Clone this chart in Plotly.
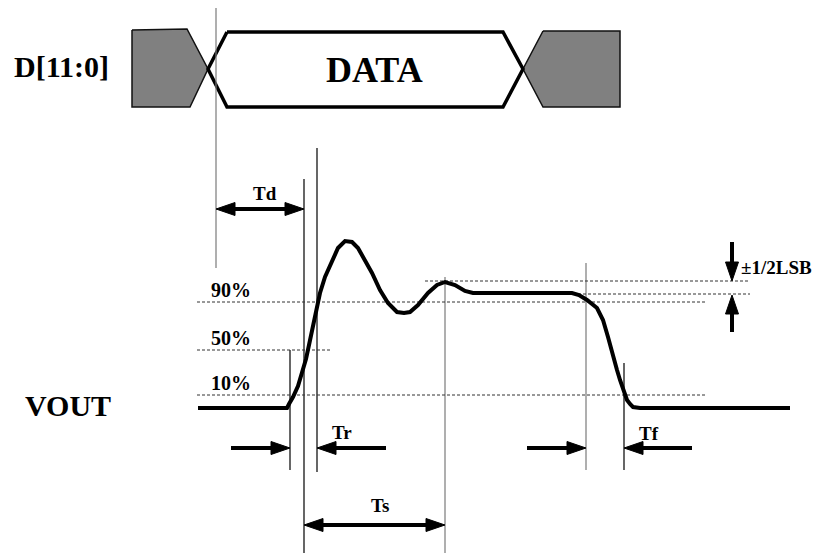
import plotly.graph_objects as go

# ---------------- data (diagram coordinates, pixel-like units) ----------------
# VOUT waveform
vout_x = [198, 287, 289, 293, 298, 302, 306, 309, 313, 317, 320, 325, 332, 338, 345,
          352, 358, 365, 372, 380, 388, 397, 404, 410, 418, 428, 437, 445, 455, 465,
          473, 482, 572, 579, 587, 597, 603, 608, 613, 617, 620, 624, 627, 630, 633,
          640, 790]
vout_y = [408, 408, 404, 397, 386, 373, 359, 345, 327, 310, 293, 277, 260, 248, 241,
          242, 248, 260, 273, 290, 303, 312, 313, 312, 305, 293, 285, 282, 285, 291,
          293, 293, 293, 295, 300, 308, 320, 337, 357, 370, 380, 391, 400, 404, 407,
          408, 408]

# data bus (D[11:0])
data_hex_x = [227, 503, 523, 503, 227, 208, 227]
data_hex_y = [32, 32, 69, 107, 107, 69, 32]
gray_left_x = [132, 187, 208, 190, 132, 132]
gray_left_y = [30, 29, 69, 107, 107, 30]
gray_right_x = [543, 620, 620, 543, 523, 543]
gray_right_y = [31, 31, 107, 107, 69, 31]

# reference (vertical) lines: x, y_top, y_bottom, colour
vlines = [
    (216, 8, 268, "#7a7a7a"),
    (290, 350, 470, "#000000"),
    (304, 179, 553, "#000000"),
    (317, 148, 472, "#000000"),
    (445, 277, 553, "#7a7a7a"),
    (586, 263, 470, "#7a7a7a"),
    (624, 363, 470, "#000000"),
]

# dashed level lines: x_start, x_end, y
level_lines = [
    (197, 707, 302),   # 90%
    (197, 332, 350),   # 50%
    (197, 707, 395),   # 10%
    (425, 750, 281),   # +1/2 LSB
    (483, 750, 294),   # -1/2 LSB
]

# single arrows: tail x, tail y, tip x, tip y
single_arrows = [
    (231, 448, 290, 448),
    (386, 448, 317, 448),
    (527, 448, 586, 448),
    (692, 448, 624, 448),
    (732, 242, 732, 281),
    (732, 332, 732, 295),
]
# double arrows: end1 x, y, end2 x, y
double_arrows = [
    (216, 209, 304, 209),   # Td
    (304, 525, 445, 525),   # Ts
]

# text labels: text, x, y, size, anchor
labels = [
    ("D[11:0]", 61, 66, 30, "center"),
    ("DATA", 374, 70, 36, "center"),
    ("VOUT", 68, 405, 30, "center"),
    ("90%", 231, 290, 20, "center"),
    ("50%", 231, 338, 20, "center"),
    ("10%", 231, 383, 20, "center"),
    ("Td", 265, 193, 19, "center"),
    ("Tr", 342, 432, 19, "center"),
    ("Ts", 380, 505, 19, "center"),
    ("Tf", 649, 433, 19, "center"),
    ("±1/2LSB", 739, 267, 19, "left"),
]

HEAD_LEN = 19
HEAD_HALF = 6.5
SHAFT_W = 4
FONT = "Times New Roman, Liberation Serif, serif"

fig = go.Figure()

def add_line(xs, ys, color="#000", width=1, dash=None, fill=None, fillcolor=None):
    fig.add_trace(go.Scatter(
        x=xs, y=ys, mode="lines",
        line=dict(color=color, width=width, dash=dash),
        fill=fill, fillcolor=fillcolor,
        hoverinfo="skip", showlegend=False))

# bus
add_line(gray_left_x, gray_left_y, color="#111", width=1.5, fill="toself", fillcolor="#808080")
add_line(gray_right_x, gray_right_y, color="#111", width=1.5, fill="toself", fillcolor="#808080")
add_line(data_hex_x, data_hex_y, color="#000", width=3.5)

# vertical reference lines
for x, y0, y1, c in vlines:
    add_line([x, x], [y0, y1], color=c, width=1.2)

# dashed levels
for x0, x1, y in level_lines:
    add_line([x0, x1], [y, y], color="#333", width=1, dash="3px,2px")

# waveform
add_line(vout_x, vout_y, color="#000", width=4)

def head(tx, ty, dx, dy):
    # tip at (tx,ty), direction (dx,dy) unit pointing towards the tip
    bx, by = tx - dx * HEAD_LEN, ty - dy * HEAD_LEN
    px, py = -dy, dx
    xs = [tx, bx + px * HEAD_HALF, bx - px * HEAD_HALF, tx]
    ys = [ty, by + py * HEAD_HALF, by - py * HEAD_HALF, ty]
    add_line(xs, ys, color="#000", width=1, fill="toself", fillcolor="#000")
    return bx, by

def unit(x0, y0, x1, y1):
    L = ((x1 - x0) ** 2 + (y1 - y0) ** 2) ** 0.5
    return (x1 - x0) / L, (y1 - y0) / L

for x0, y0, x1, y1 in single_arrows:
    dx, dy = unit(x0, y0, x1, y1)
    bx, by = head(x1, y1, dx, dy)
    add_line([x0, bx], [y0, by], color="#000", width=SHAFT_W)

for x0, y0, x1, y1 in double_arrows:
    dx, dy = unit(x0, y0, x1, y1)
    b1x, b1y = head(x1, y1, dx, dy)
    b0x, b0y = head(x0, y0, -dx, -dy)
    add_line([b0x, b1x], [b0y, b1y], color="#000", width=SHAFT_W)

for text, x, y, size, anchor in labels:
    fig.add_annotation(x=x, y=y, xref="x", yref="y", text="<b>%s</b>" % text,
                       showarrow=False, xanchor=anchor, yanchor="middle",
                       font=dict(family=FONT, size=size, color="#000"))

fig.update_layout(
    width=819, height=557, autosize=False,
    margin=dict(l=0, r=0, t=0, b=0),
    paper_bgcolor="white", plot_bgcolor="white",
    xaxis=dict(range=[0, 819], visible=False, fixedrange=True),
    yaxis=dict(range=[557, 0], visible=False, fixedrange=True),
)

fig.write_html("out.html", config={"displayModeBar": False},
               post_script="document.body.style.margin='0';")
